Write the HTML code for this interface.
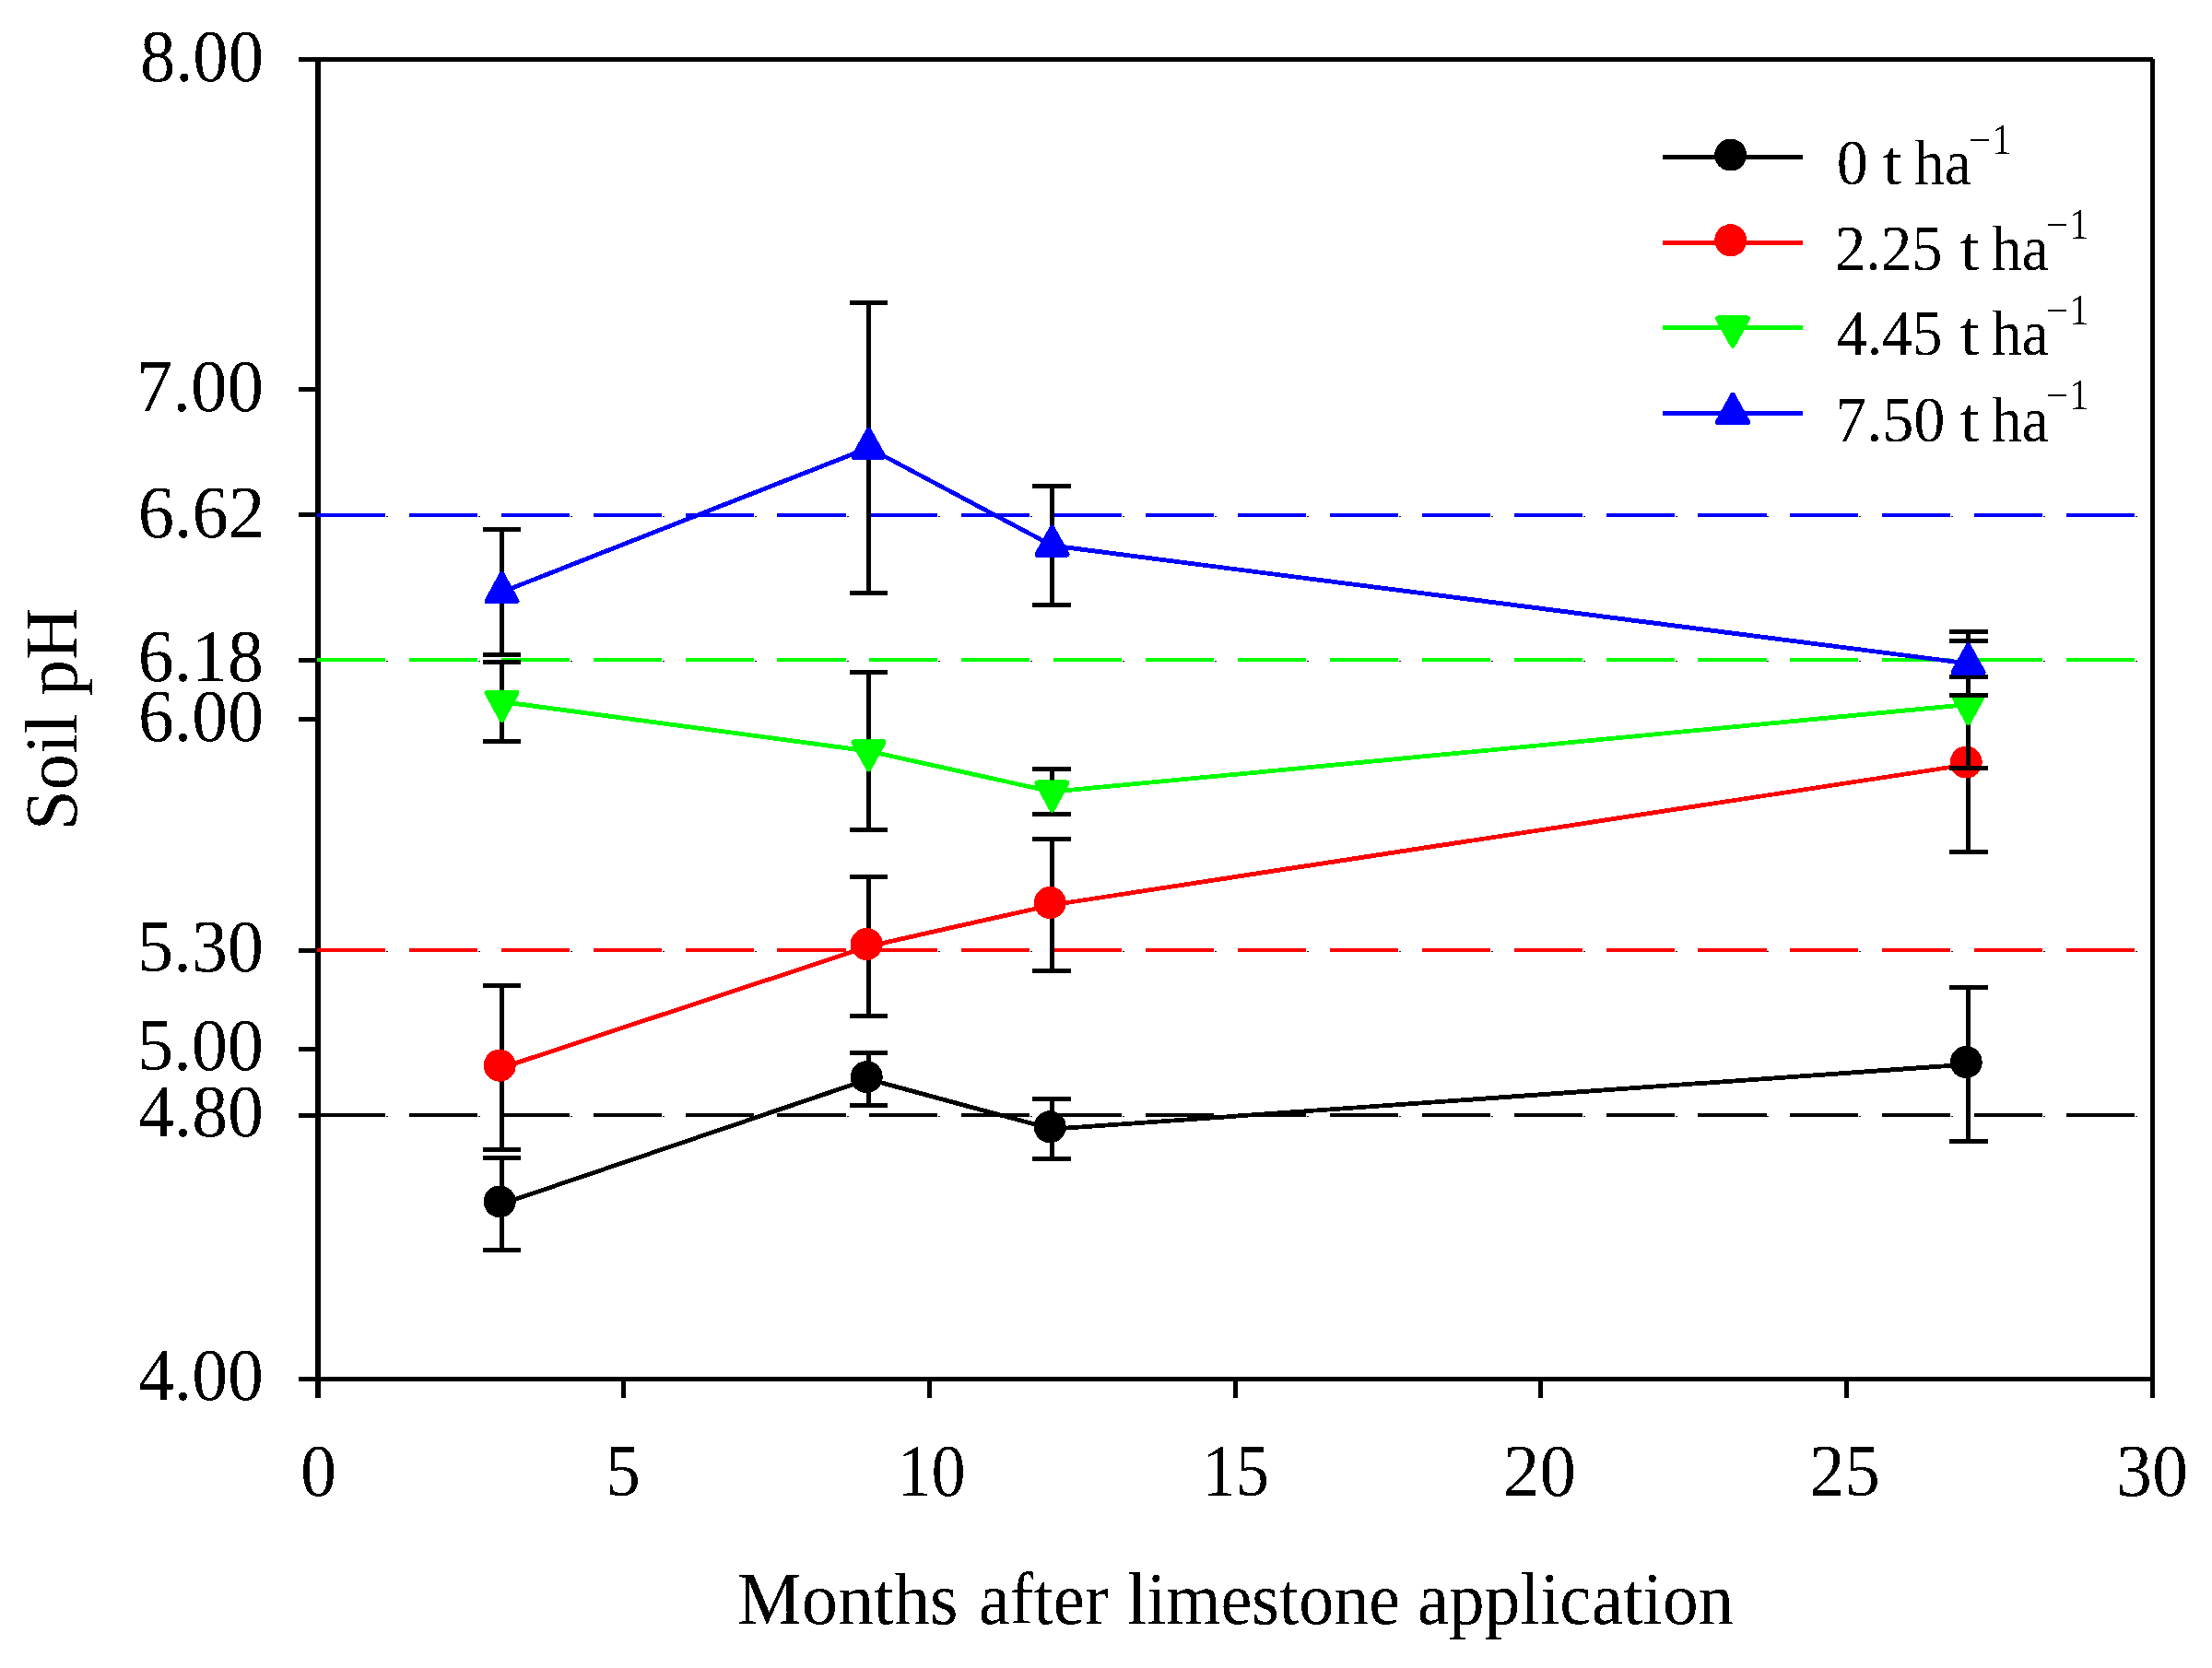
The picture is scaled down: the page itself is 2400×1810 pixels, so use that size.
<!DOCTYPE html><html><head><meta charset="utf-8"><title>Soil pH</title>
<style>html,body{margin:0;padding:0;background:#fff;width:2400px;height:1810px;overflow:hidden}svg{display:block}text{font-family:'Liberation Serif','Times New Roman',serif;fill:#000}</style></head><body>
<svg width="2400" height="1810" viewBox="0 0 2400 1810">
<rect width="2400" height="1810" fill="#fff"/>
<defs><filter id="bin" x="0" y="0" width="2400" height="1810" filterUnits="userSpaceOnUse" color-interpolation-filters="sRGB"><feComponentTransfer><feFuncA type="discrete" tableValues="0 1"/></feComponentTransfer></filter></defs>
<g filter="url(#bin)">
<g fill="#000">
<rect x="342" y="62" width="6" height="1455"/>
<rect x="324" y="62" width="2012" height="5"/>
<rect x="2333" y="64" width="5" height="1453"/>
<rect x="324" y="1494" width="2014" height="5"/>
<rect x="324" y="62" width="20" height="5"/>
<rect x="324" y="420" width="20" height="5"/>
<rect x="324" y="556" width="20" height="5"/>
<rect x="324" y="714" width="20" height="5"/>
<rect x="324" y="778" width="20" height="5"/>
<rect x="324" y="1029" width="20" height="5"/>
<rect x="324" y="1136" width="20" height="5"/>
<rect x="324" y="1208" width="20" height="5"/>
<rect x="324" y="1494" width="20" height="5"/>
<rect x="674" y="1497" width="5" height="20"/>
<rect x="1006" y="1497" width="5" height="20"/>
<rect x="1338" y="1497" width="5" height="20"/>
<rect x="1669" y="1497" width="5" height="20"/>
<rect x="2001" y="1497" width="5" height="20"/>
</g>
<line x1="344" y1="559.0" x2="2333" y2="559.0" stroke="#0000ff" stroke-width="4" stroke-dasharray="74 25.9"/>
<g fill="#1a0030"><rect x="419" y="560" width="2" height="1"/><rect x="519" y="560" width="2" height="1"/><rect x="619" y="560" width="2" height="1"/><rect x="719" y="560" width="2" height="1"/><rect x="819" y="560" width="2" height="1"/><rect x="919" y="560" width="2" height="1"/><rect x="1018" y="560" width="2" height="1"/><rect x="1118" y="560" width="2" height="1"/><rect x="1218" y="560" width="2" height="1"/><rect x="1318" y="560" width="2" height="1"/><rect x="1418" y="560" width="2" height="1"/><rect x="1518" y="560" width="2" height="1"/><rect x="1618" y="560" width="2" height="1"/><rect x="1718" y="560" width="2" height="1"/><rect x="1818" y="560" width="2" height="1"/><rect x="1917" y="560" width="2" height="1"/><rect x="2017" y="560" width="2" height="1"/><rect x="2117" y="560" width="2" height="1"/><rect x="2217" y="560" width="2" height="1"/><rect x="2317" y="560" width="2" height="1"/></g>
<line x1="344" y1="716.0" x2="2333" y2="716.0" stroke="#00ff00" stroke-width="4" stroke-dasharray="74 25.9"/>
<g fill="#1a0030"><rect x="419" y="717" width="2" height="1"/><rect x="519" y="717" width="2" height="1"/><rect x="619" y="717" width="2" height="1"/><rect x="719" y="717" width="2" height="1"/><rect x="819" y="717" width="2" height="1"/><rect x="919" y="717" width="2" height="1"/><rect x="1018" y="717" width="2" height="1"/><rect x="1118" y="717" width="2" height="1"/><rect x="1218" y="717" width="2" height="1"/><rect x="1318" y="717" width="2" height="1"/><rect x="1418" y="717" width="2" height="1"/><rect x="1518" y="717" width="2" height="1"/><rect x="1618" y="717" width="2" height="1"/><rect x="1718" y="717" width="2" height="1"/><rect x="1818" y="717" width="2" height="1"/><rect x="1917" y="717" width="2" height="1"/><rect x="2017" y="717" width="2" height="1"/><rect x="2117" y="717" width="2" height="1"/><rect x="2217" y="717" width="2" height="1"/><rect x="2317" y="717" width="2" height="1"/></g>
<line x1="344" y1="1031.0" x2="2333" y2="1031.0" stroke="#ff0000" stroke-width="4" stroke-dasharray="74 25.9"/>
<g fill="#1a0030"><rect x="419" y="1032" width="2" height="1"/><rect x="519" y="1032" width="2" height="1"/><rect x="619" y="1032" width="2" height="1"/><rect x="719" y="1032" width="2" height="1"/><rect x="819" y="1032" width="2" height="1"/><rect x="919" y="1032" width="2" height="1"/><rect x="1018" y="1032" width="2" height="1"/><rect x="1118" y="1032" width="2" height="1"/><rect x="1218" y="1032" width="2" height="1"/><rect x="1318" y="1032" width="2" height="1"/><rect x="1418" y="1032" width="2" height="1"/><rect x="1518" y="1032" width="2" height="1"/><rect x="1618" y="1032" width="2" height="1"/><rect x="1718" y="1032" width="2" height="1"/><rect x="1818" y="1032" width="2" height="1"/><rect x="1917" y="1032" width="2" height="1"/><rect x="2017" y="1032" width="2" height="1"/><rect x="2117" y="1032" width="2" height="1"/><rect x="2217" y="1032" width="2" height="1"/><rect x="2317" y="1032" width="2" height="1"/></g>
<line x1="344" y1="1210.0" x2="2333" y2="1210.0" stroke="#000000" stroke-width="4" stroke-dasharray="74 25.9"/>
<g fill="#1a0030"><rect x="419" y="1211" width="2" height="1"/><rect x="519" y="1211" width="2" height="1"/><rect x="619" y="1211" width="2" height="1"/><rect x="719" y="1211" width="2" height="1"/><rect x="819" y="1211" width="2" height="1"/><rect x="919" y="1211" width="2" height="1"/><rect x="1018" y="1211" width="2" height="1"/><rect x="1118" y="1211" width="2" height="1"/><rect x="1218" y="1211" width="2" height="1"/><rect x="1318" y="1211" width="2" height="1"/><rect x="1418" y="1211" width="2" height="1"/><rect x="1518" y="1211" width="2" height="1"/><rect x="1618" y="1211" width="2" height="1"/><rect x="1718" y="1211" width="2" height="1"/><rect x="1818" y="1211" width="2" height="1"/><rect x="1917" y="1211" width="2" height="1"/><rect x="2017" y="1211" width="2" height="1"/><rect x="2117" y="1211" width="2" height="1"/><rect x="2217" y="1211" width="2" height="1"/><rect x="2317" y="1211" width="2" height="1"/></g>
<g><rect x="542" y="1256" width="5" height="100"/><rect x="524" y="1254" width="41" height="5"/><rect x="524" y="1354" width="41" height="5"/><rect x="940" y="1142" width="5" height="57"/><rect x="922" y="1140" width="41" height="5"/><rect x="922" y="1197" width="41" height="5"/><rect x="1139" y="1192" width="5" height="65"/><rect x="1120" y="1190" width="42" height="5"/><rect x="1120" y="1255" width="42" height="5"/><rect x="2133" y="1071" width="5" height="167"/><rect x="2115" y="1069" width="42" height="5"/><rect x="2115" y="1236" width="42" height="5"/><polyline points="544.5,1306.3 942.5,1171.1 1141.5,1225.2 2135.5,1155.0" fill="none" stroke="#000000" stroke-width="4.8" stroke-linejoin="round"/><circle cx="542.2" cy="1303.9" r="17.5" fill="#000000"/><circle cx="940.2" cy="1168.7" r="17.5" fill="#000000"/><circle cx="1139.2" cy="1222.8" r="17.5" fill="#000000"/><circle cx="2133.2" cy="1152.6" r="17.5" fill="#000000"/></g>
<g><rect x="542" y="1069" width="5" height="178"/><rect x="524" y="1067" width="41" height="5"/><rect x="524" y="1245" width="41" height="5"/><rect x="940" y="951" width="5" height="151"/><rect x="922" y="949" width="41" height="5"/><rect x="922" y="1100" width="41" height="5"/><rect x="1139" y="910" width="5" height="143"/><rect x="1120" y="908" width="42" height="5"/><rect x="1120" y="1051" width="42" height="5"/><rect x="2133" y="734" width="5" height="190"/><rect x="2115" y="732" width="42" height="5"/><rect x="2115" y="922" width="42" height="5"/><polyline points="544.5,1158.6 942.5,1026.9 1141.5,982.0 2135.5,829.5" fill="none" stroke="#ff0000" stroke-width="4.8" stroke-linejoin="round"/><circle cx="542.2" cy="1156.2" r="17.5" fill="#ff0000"/><circle cx="940.2" cy="1024.5" r="17.5" fill="#ff0000"/><circle cx="1139.2" cy="979.6" r="17.5" fill="#ff0000"/><circle cx="2133.2" cy="827.1" r="17.5" fill="#ff0000"/></g>
<g><rect x="542" y="718" width="5" height="86"/><rect x="524" y="716" width="41" height="5"/><rect x="524" y="802" width="41" height="5"/><rect x="940" y="729" width="5" height="171"/><rect x="922" y="727" width="41" height="5"/><rect x="922" y="898" width="41" height="5"/><rect x="1139" y="834" width="5" height="49"/><rect x="1120" y="832" width="42" height="5"/><rect x="1120" y="881" width="42" height="5"/><rect x="2133" y="695" width="5" height="138"/><rect x="2115" y="693" width="42" height="5"/><rect x="2115" y="831" width="42" height="5"/><polyline points="544.5,761.5 942.5,815.0 1141.5,859.2 2135.5,764.5" fill="none" stroke="#00ff00" stroke-width="4.8" stroke-linejoin="round"/><path d="M528.5 751.8L560.5 751.8L544.5 780.8Z" fill="#00ff00" stroke="#00ff00" stroke-width="6" stroke-linejoin="round"/><path d="M926.5 805.3L958.5 805.3L942.5 834.3Z" fill="#00ff00" stroke="#00ff00" stroke-width="6" stroke-linejoin="round"/><path d="M1125.5 849.5L1157.5 849.5L1141.5 878.5Z" fill="#00ff00" stroke="#00ff00" stroke-width="6" stroke-linejoin="round"/><path d="M2119.5 754.8L2151.5 754.8L2135.5 783.8Z" fill="#00ff00" stroke="#00ff00" stroke-width="6" stroke-linejoin="round"/></g>
<g><rect x="542" y="574" width="5" height="136"/><rect x="524" y="572" width="41" height="5"/><rect x="524" y="708" width="41" height="5"/><rect x="940" y="328" width="5" height="315"/><rect x="922" y="326" width="41" height="5"/><rect x="922" y="641" width="41" height="5"/><rect x="1139" y="527" width="5" height="129"/><rect x="1120" y="525" width="42" height="5"/><rect x="1120" y="654" width="42" height="5"/><rect x="2133" y="685" width="5" height="69"/><rect x="2115" y="683" width="42" height="5"/><rect x="2115" y="752" width="42" height="5"/><polyline points="544.5,642.5 942.5,486.0 1141.5,592.0 2135.5,720.0" fill="none" stroke="#0000ff" stroke-width="4.8" stroke-linejoin="round"/><path d="M544.5 623.2L560.5 652.2L528.5 652.2Z" fill="#0000ff" stroke="#0000ff" stroke-width="6" stroke-linejoin="round"/><path d="M942.5 466.7L958.5 495.7L926.5 495.7Z" fill="#0000ff" stroke="#0000ff" stroke-width="6" stroke-linejoin="round"/><path d="M1141.5 572.7L1157.5 601.7L1125.5 601.7Z" fill="#0000ff" stroke="#0000ff" stroke-width="6" stroke-linejoin="round"/><path d="M2135.5 700.7L2151.5 729.7L2119.5 729.7Z" fill="#0000ff" stroke="#0000ff" stroke-width="6" stroke-linejoin="round"/></g>
<text transform="translate(151.93 88.10) scale(0.9575 1)" font-size="80">8.00</text>
<text transform="translate(147.76 446.20) scale(0.9886 1)" font-size="80">7.00</text>
<text transform="translate(149.65 582.50) scale(0.9827 1)" font-size="80">6.62</text>
<text transform="translate(149.68 738.90) scale(0.9739 1)" font-size="80">6.18</text>
<text transform="translate(149.99 804.10) scale(0.9716 1)" font-size="80">6.00</text>
<text transform="translate(149.01 1054.10) scale(0.9788 1)" font-size="80">5.30</text>
<text transform="translate(149.01 1161.00) scale(0.9788 1)" font-size="80">5.00</text>
<text transform="translate(149.96 1233.00) scale(0.9719 1)" font-size="80">4.80</text>
<text transform="translate(149.96 1519.10) scale(0.9719 1)" font-size="80">4.00</text>
<text transform="translate(325.97 1623.00) scale(0.9765 1)" font-size="80">0</text>
<text transform="translate(657.20 1623.00) scale(0.9406 1)" font-size="80">5</text>
<text transform="translate(973.39 1623.00) scale(0.9300 1)" font-size="80">10</text>
<text transform="translate(1304.47 1623.00) scale(0.9043 1)" font-size="80">15</text>
<text transform="translate(1630.95 1623.00) scale(0.9877 1)" font-size="80">20</text>
<text transform="translate(1963.16 1623.00) scale(0.9589 1)" font-size="80">25</text>
<text transform="translate(2296.00 1623.00) scale(0.9753 1)" font-size="80">30</text>
<text transform="translate(800.04 1762.00) scale(0.9799 1)" font-size="80">Months</text>
<text transform="translate(1061.72 1762.00) scale(0.9615 1)" font-size="80">after</text>
<text transform="translate(1223.00 1762.00) scale(0.9520 1)" font-size="80">limestone</text>
<text transform="translate(1537.80 1762.00) scale(0.9664 1)" font-size="80">application</text>
<text transform="translate(82.8 900.80) rotate(-90) scale(0.9791 1)" font-size="80">Soil pH</text>
<rect x="1804" y="168.1" width="152" height="4.9" fill="#000000"/>
<circle cx="1877.7" cy="168.1" r="17.5" fill="#000000"/>
<text transform="translate(1992.78 200.00) scale(0.9724 1)" font-size="70">0</text>
<text transform="translate(2042.85 200.00) scale(1.0500 1)" font-size="70">t</text>
<text transform="translate(2076.96 200.00) scale(0.9391 1)" font-size="70">ha</text>
<text transform="translate(2135.98 167.10) scale(0.9591 1)" font-size="46">&#8722;1</text>
<rect x="1804" y="260.8" width="152" height="4.9" fill="#ff0000"/>
<circle cx="1877.7" cy="260.8" r="17.5" fill="#ff0000"/>
<text transform="translate(1991.05 292.80) scale(0.9496 1)" font-size="70">2.25</text>
<text transform="translate(2126.84 292.80) scale(1.0556 1)" font-size="70">t</text>
<text transform="translate(2161.06 292.80) scale(0.9375 1)" font-size="70">ha</text>
<text transform="translate(2219.67 259.10) scale(0.9636 1)" font-size="46">&#8722;1</text>
<rect x="1804" y="352.9" width="152" height="4.9" fill="#00ff00"/>
<path d="M1864.0 345.6L1896.0 345.6L1880.0 374.6Z" fill="#00ff00" stroke="#00ff00" stroke-width="6" stroke-linejoin="round"/>
<text transform="translate(1992.97 385.00) scale(0.9336 1)" font-size="70">4.45</text>
<text transform="translate(2126.84 385.00) scale(1.0556 1)" font-size="70">t</text>
<text transform="translate(2161.06 385.00) scale(0.9375 1)" font-size="70">ha</text>
<text transform="translate(2219.67 352.20) scale(0.9636 1)" font-size="46">&#8722;1</text>
<rect x="1804" y="445.9" width="152" height="4.9" fill="#0000ff"/>
<path d="M1880.0 429.0L1896.0 458.0L1864.0 458.0Z" fill="#0000ff" stroke="#0000ff" stroke-width="6" stroke-linejoin="round"/>
<text transform="translate(1991.03 478.70) scale(0.9748 1)" font-size="70">7.50</text>
<text transform="translate(2126.84 478.70) scale(1.0556 1)" font-size="70">t</text>
<text transform="translate(2161.06 478.70) scale(0.9375 1)" font-size="70">ha</text>
<text transform="translate(2219.67 443.90) scale(0.9636 1)" font-size="46">&#8722;1</text>
</g></svg></body></html>
